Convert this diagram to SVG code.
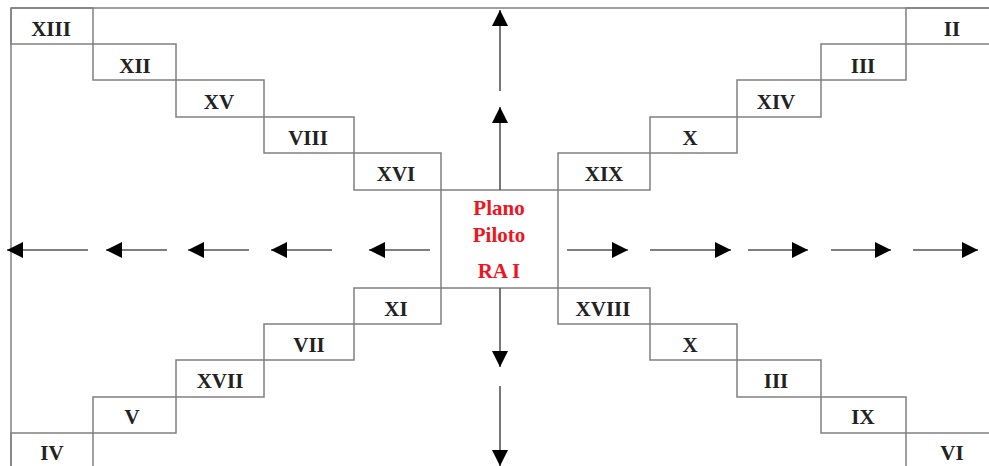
<svg xmlns="http://www.w3.org/2000/svg" width="989" height="466" viewBox="0 0 989 466">
<style>
.box{fill:none;stroke:#808080;stroke-width:1.5}
.lbl{font-family:"Liberation Serif","Times New Roman",serif;font-weight:bold;font-size:21px;fill:#222;text-anchor:middle}
.red{font-family:"Liberation Serif","Times New Roman",serif;font-weight:bold;font-size:21px;fill:#f0141e;text-anchor:middle}
.arr{stroke:#555;stroke-width:1.6;fill:none;marker-end:url(#ah)}
</style>
<defs>
<marker id="ah" markerUnits="userSpaceOnUse" markerWidth="17" markerHeight="17" refX="16" refY="8" orient="auto">
<path d="M0,0 L16,8 L0,16 z" fill="#000"/>
</marker>
</defs>
<rect width="989" height="466" fill="#fff"/>
<g id="frame">
<line class="box" x1="11" y1="8" x2="995" y2="8"/>
<line class="box" x1="11" y1="8" x2="11" y2="470"/>
</g>
<g id="n-XIII"><rect class="box" x="11" y="8" width="82" height="36"/><text class="lbl" x="51" y="36">XIII</text></g>
<g id="n-XII"><rect class="box" x="93" y="44" width="83" height="36"/><text class="lbl" x="135" y="73">XII</text></g>
<g id="n-XV"><rect class="box" x="176" y="80" width="88" height="37"/><text class="lbl" x="219" y="109">XV</text></g>
<g id="n-VIII"><rect class="box" x="264" y="117" width="90" height="36"/><text class="lbl" x="308" y="145">VIII</text></g>
<g id="n-XVI"><rect class="box" x="354" y="153" width="87" height="37"/><text class="lbl" x="396" y="181">XVI</text></g>
<g id="n-PP"><rect class="box" x="441" y="190" width="117" height="98"/>
<text class="red" x="499" y="215">Plano</text><text class="red" x="499" y="242">Piloto</text><text class="red" x="499" y="278">RA I</text></g>
<g id="n-XIX"><rect class="box" x="558" y="153" width="92" height="37"/><text class="lbl" x="604" y="181">XIX</text></g>
<g id="n-X1"><rect class="box" x="650" y="117" width="87" height="36"/><text class="lbl" x="690" y="145">X</text></g>
<g id="n-XIV"><rect class="box" x="737" y="80" width="84" height="37"/><text class="lbl" x="776" y="109">XIV</text></g>
<g id="n-III1"><rect class="box" x="821" y="44" width="85" height="36"/><text class="lbl" x="863" y="73">III</text></g>
<g id="n-II"><rect class="box" x="906" y="8" width="95" height="36"/><text class="lbl" x="952" y="36">II</text></g>
<g id="n-XI"><rect class="box" x="354" y="288" width="87" height="36"/><text class="lbl" x="396" y="316">XI</text></g>
<g id="n-VII"><rect class="box" x="264" y="324" width="90" height="36"/><text class="lbl" x="309" y="352">VII</text></g>
<g id="n-XVII"><rect class="box" x="176" y="360" width="88" height="37"/><text class="lbl" x="220" y="388">XVII</text></g>
<g id="n-V"><rect class="box" x="93" y="397" width="83" height="36"/><text class="lbl" x="132" y="424">V</text></g>
<g id="n-IV"><rect class="box" x="11" y="433" width="82" height="40"/><text class="lbl" x="52" y="460">IV</text></g>
<g id="n-XVIII"><rect class="box" x="558" y="288" width="92" height="36"/><text class="lbl" x="603" y="316">XVIII</text></g>
<g id="n-X2"><rect class="box" x="650" y="324" width="87" height="36"/><text class="lbl" x="690" y="352">X</text></g>
<g id="n-III2"><rect class="box" x="737" y="360" width="84" height="37"/><text class="lbl" x="776" y="388">III</text></g>
<g id="n-IX"><rect class="box" x="821" y="397" width="85" height="36"/><text class="lbl" x="863" y="424">IX</text></g>
<g id="n-VI"><rect class="box" x="906" y="433" width="95" height="40"/><text class="lbl" x="952" y="460">VI</text></g>
<g id="connectors">
<line class="arr" x1="88" y1="250" x2="7" y2="250"/>
<line class="arr" x1="167" y1="250" x2="106" y2="250"/>
<line class="arr" x1="249" y1="250" x2="188" y2="250"/>
<line class="arr" x1="332" y1="250" x2="271" y2="250"/>
<line class="arr" x1="430" y1="250" x2="369" y2="250"/>
<line class="arr" x1="567" y1="250" x2="628" y2="250"/>
<line class="arr" x1="650" y1="250" x2="731" y2="250"/>
<line class="arr" x1="748" y1="250" x2="808" y2="250"/>
<line class="arr" x1="831" y1="250" x2="891" y2="250"/>
<line class="arr" x1="913" y1="250" x2="978" y2="250"/>
<line class="arr" x1="500" y1="91" x2="500" y2="10"/>
<line class="arr" x1="500" y1="190" x2="500" y2="107"/>
<line class="arr" x1="500" y1="288" x2="500" y2="367"/>
<line class="arr" x1="500" y1="386" x2="500" y2="466"/>
</g>
</svg>
